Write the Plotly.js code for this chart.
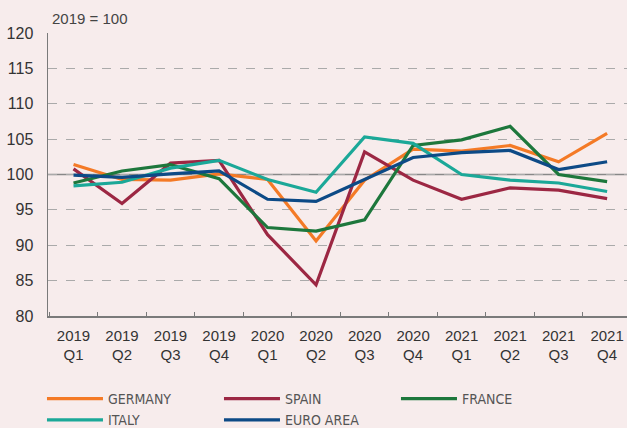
<!DOCTYPE html>
<html>
<head>
<meta charset="utf-8">
<script src="https://cdn.plot.ly/plotly-3.0.1.min.js"></script>
<style>
html,body{margin:0;padding:0;background:#f7ecec;}
#chart{width:627px;height:428px;}
</style>
</head>
<body>
<div id="chart"></div>
<script>
const quarters = ["2019<br>Q1","2019<br>Q2","2019<br>Q3","2019<br>Q4","2020<br>Q1","2020<br>Q2","2020<br>Q3","2020<br>Q4","2021<br>Q1","2021<br>Q2","2021<br>Q3","2021<br>Q4"];
const germany  = [101.4, 99.3, 99.2, 100.1, 99.3, 90.6, 99.2, 103.6, 103.3, 104.1, 101.8, 105.8];
const spain    = [100.8, 95.9, 101.6, 102.0, 91.5, 84.4, 103.2, 99.2, 96.5, 98.1, 97.8, 96.6];
const france   = [98.8, 100.5, 101.4, 99.4, 92.5, 92.0, 93.6, 104.1, 104.9, 106.8, 100.0, 99.0];
const italy    = [98.4, 98.9, 100.9, 102.0, 99.3, 97.5, 105.3, 104.4, 100.0, 99.2, 98.8, 97.6];
const euroArea = [99.9, 99.6, 100.1, 100.5, 96.5, 96.2, 99.3, 102.4, 103.1, 103.4, 100.7, 101.8];

const series = [
  {name:"GERMANY", y:germany, color:"#f47a26"},
  {name:"SPAIN", y:spain, color:"#9c2743"},
  {name:"FRANCE", y:france, color:"#1d773c"},
  {name:"ITALY", y:italy, color:"#1ba898"},
  {name:"EURO AREA", y:euroArea, color:"#0d4a86"}
];

const traces = series.map(s => ({
  type:"scatter", mode:"lines", name:s.name, x:quarters, y:s.y,
  line:{color:s.color, width:3.2}
}));

const layout = {
  width:627, height:428,
  paper_bgcolor:"#f7ecec", plot_bgcolor:"#f7ecec",
  margin:{l:48, r:0, t:33, b:112, autoexpand:false},
  font:{family:"Liberation Sans, Arial, sans-serif", color:"#333", size:15},
  showlegend:true,
  legend:{orientation:"h", x:-0.0104, xanchor:"left", y:-0.237, yanchor:"top",
    entrywidth:106, entrywidthmode:"pixels", itemwidth:56,
    font:{family:"DejaVu Sans Condensed, Liberation Sans, sans-serif", size:14, color:"#555"},
    tracegroupgap:0, bgcolor:"rgba(0,0,0,0)"},
  xaxis:{type:"category", range:[-0.526, 11.41], showgrid:false,
    showline:true, linecolor:"#7a7a7a", linewidth:1.5,
    ticks:"inside", ticklen:4, tickcolor:"#7a7a7a", tickson:"boundaries",
    ticklabelstandoff:5,
    tickfont:{size:15, color:"#333"}, fixedrange:true},
  yaxis:{range:[80,120], tickvals:[80,85,90,95,100,105,110,115,120],
    showgrid:true, gridcolor:"#aaaaaa", griddash:"dash", gridwidth:1,
    showline:true, linecolor:"#7a7a7a", linewidth:1.5, zeroline:false,
    ticks:"", ticklabelstandoff:10, tickfont:{size:16, color:"#333"}, fixedrange:true},
  shapes:[{type:"line", xref:"paper", yref:"y", x0:0, x1:1, y0:100, y1:100,
    line:{color:"#888", width:1.5}, layer:"below"}],
  annotations:[{text:"2019 = 100", xref:"paper", yref:"paper", x:0.003, y:1.015,
    xanchor:"left", yanchor:"bottom", showarrow:false, font:{size:15, color:"#444"}}]
};

Plotly.newPlot("chart", traces, layout, {displayModeBar:false, staticPlot:true});
</script>
</body>
</html>
